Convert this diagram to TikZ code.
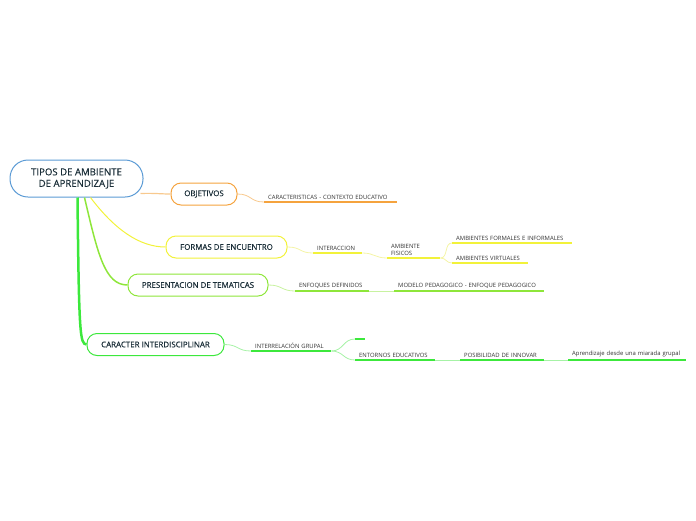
\documentclass[tikz,border=0pt]{standalone}
\usepackage{fontspec}
\setmainfont{Open Sans}
\newfontfamily\boxfont{Open Sans}[FakeBold=0.35]
\usetikzlibrary{calc}

\definecolor{rootblue}{HTML}{5B9BD5}
\definecolor{boxtxt}{HTML}{1A2E38}
\definecolor{leaftxt}{HTML}{333333}
\definecolor{orng}{HTML}{F5A33E}
\definecolor{orngl}{HTML}{F8C98E}
\definecolor{yell}{HTML}{F2F23A}
\definecolor{yelll}{HTML}{F4F4A6}
\definecolor{lime}{HTML}{8EE63A}
\definecolor{limel}{HTML}{C8F2A0}
\definecolor{grn}{HTML}{3CE83C}
\definecolor{grnl}{HTML}{A6F2A6}

\begin{document}
\begin{tikzpicture}[
    x=1pt, y=-1pt,
    % root and main topics
    root/.style={draw=rootblue, line width=1pt, fill=white, rounded corners=18pt,
        minimum width=133pt, minimum height=37pt, align=center, text=boxtxt,
        font=\boxfont\fontsize{9.6}{11.5}\selectfont},
    topic/.style={line width=1pt, fill=white, rounded corners=10pt, minimum height=22pt,
        text=boxtxt, font=\boxfont\fontsize{7.9}{9}\selectfont},
    % underlined sub topics
    leaf/.style={anchor=south west, inner xsep=4pt, inner ysep=2.5pt, text width=#1,
        align=left, text=leaftxt, font=\fontsize{5.9}{6.8}\selectfont},
    uline/.style={line width=1.8pt},
    conn/.style={line width=0.8pt}
]
\useasboundingbox (0,0) rectangle (696,520);

% ===============================
% Root and main topics
% ===============================
\node[root] (root) at (76.5,178.5) {TIPOS DE AMBIENTE\\DE APRENDIZAJE};

\node[topic, draw=orng, minimum width=66pt] (obj) at (204,194) {OBJETIVOS};
\node[topic, draw=yell, minimum width=121pt] (formas) at (226.5,247) {FORMAS DE ENCUENTRO};
\node[topic, draw=lime, minimum width=140pt] (present) at (198,285) {PRESENTACION DE TEMATICAS};
\node[topic, draw=grn, minimum width=137pt] (caract) at (155.5,344.5) {CARACTER INTERDISCIPLINAR};

% Root to topics
\draw[draw=orngl, line width=1.2pt] ($(root.south east)+(-3,-4)$) .. controls (155,193) and (160,194) .. (obj.west);
\draw[draw=yell, line width=1pt] ($(root.south)+(14,0)$) .. controls (115,230) and (140,247) .. (formas.west);
\draw[draw=lime, line width=1.5pt] ($(root.south)+(8,0)$) .. controls (98,255) and (105,285) .. (present.west);
\draw[draw=grn, line width=2.5pt] ($(root.south)+(1,0)$) .. controls (79,335) and (80,344) .. (caract.west);

% ===============================
% Objetivos
% ===============================
\node[leaf=125pt] (carac) at (264,202) {CARACTERISTICAS - CONTEXTO EDUCATIVO};
\draw[uline, orng] (carac.south west) -- (carac.south east);
\draw[conn, orngl] (obj.east) .. controls +(14,0) and +(-14,0) .. (carac.south west);

% ===============================
% Formas de encuentro
% ===============================
\node[leaf=41pt] (interac) at (313,253) {INTERACCION};
\node[leaf=45pt] (ambfis) at (387,258) {AMBIENTE\\FISICOS};
\node[leaf=112pt] (formal) at (452,243) {AMBIENTES FORMALES E INFORMALES};
\node[leaf=68pt] (virtual) at (452,263) {AMBIENTES VIRTUALES};

\foreach \n in {interac, ambfis, formal, virtual}
    \draw[uline, yell] (\n.south west) -- (\n.south east);

\draw[conn, yelll] (formas.east) .. controls +(14,0) and +(-14,0) .. (interac.south west);
\draw[conn, yelll] (interac.south east) .. controls +(12,0) and +(-12,0) .. (ambfis.south west);
\draw[conn, yelll] (ambfis.south east) .. controls +(8,0) and +(-8,0) .. (formal.south west);
\draw[conn, yelll] (ambfis.south east) .. controls +(6,0) and +(-6,0) .. (virtual.south west);

% ===============================
% Presentacion de tematicas
% ===============================
\node[leaf=66pt] (enfoq) at (295,291) {ENFOQUES DEFINIDOS};
\node[leaf=142pt] (modelo) at (394,291) {MODELO PEDAGOGICO - ENFOQUE PEDAGOGICO};

\foreach \n in {enfoq, modelo}
    \draw[uline, lime] (\n.south west) -- (\n.south east);

\draw[conn, limel] (present.east) .. controls +(14,0) and +(-14,0) .. (enfoq.south west);
\draw[conn, limel] (enfoq.south east) -- (modelo.south west);

% ===============================
% Caracter interdisciplinar
% ===============================
\node[leaf=72pt] (interrel) at (251,351) {INTERRELACIÓN GRUPAL};
\node[leaf=2pt] (vacio) at (355,339) {};
\node[leaf=72pt] (entorno) at (355,360) {ENTORNOS EDUCATIVOS};
\node[leaf=76pt] (posib) at (460,360) {POSIBILIDAD DE INNOVAR};
\node[leaf=110pt] (aprend) at (568,360) {Aprendizaje desde una miarada grupal};

\foreach \n in {interrel, vacio, entorno, posib, aprend}
    \draw[uline, grn] (\n.south west) -- (\n.south east);

\draw[conn, grnl] (caract.east) .. controls +(14,0) and +(-14,0) .. (interrel.south west);
\draw[conn, grnl] (interrel.south east) .. controls +(12,0) and +(-12,0) .. (vacio.south west);
\draw[conn, grnl] (interrel.south east) .. controls +(12,0) and +(-12,0) .. (entorno.south west);
\draw[conn, grnl] (entorno.south east) -- (posib.south west);
\draw[conn, grnl] (posib.south east) -- (aprend.south west);

\end{tikzpicture}
\end{document}
